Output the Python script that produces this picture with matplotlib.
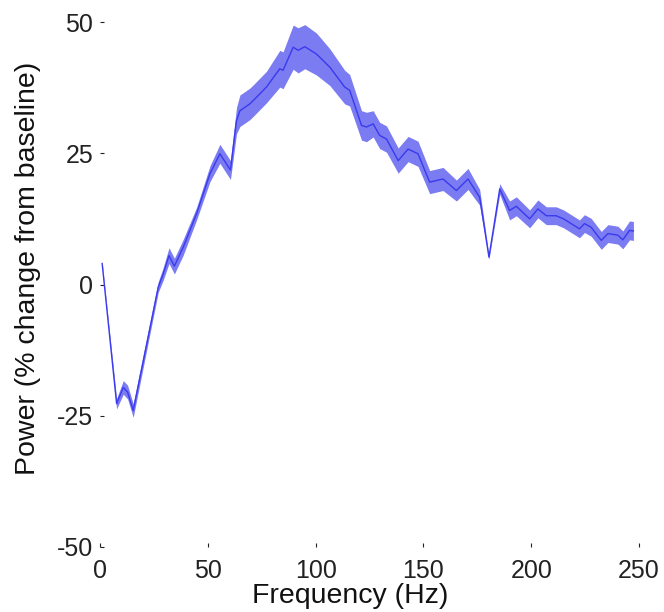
import matplotlib
matplotlib.use('Agg')
import matplotlib.pyplot as plt
import numpy as np

# values
freq = [1, 7.7, 10.8, 12.8, 15.4, 27, 29.3, 32, 34.5, 38.6, 44.8, 51, 55.6, 60.5,
        63.3, 64.9, 69.5, 71, 77.2, 83.4, 84.9, 89.6, 91.9, 95, 100.4, 106.6,
        113.5, 115.8, 121.3, 123.6, 126.7, 129.7, 132.9, 138.3, 142.9, 147.5,
        152.9, 159.1, 165.3, 170.7, 176.1, 180.4, 185.4, 190, 193.1, 199.3,
        203.1, 207, 211.6, 215, 219.3, 222.4, 224.7, 227.8, 232.5, 235.6,
        240.2, 242.5, 245.6, 247.4]
power = [4.0, -22.7, -19.6, -20.5, -24.0, -0.5, 2.0, 5.5, 3.5, 7.1, 13.5, 21.1, 24.9, 21.8,
         31.2, 33.1, 34.4, 35.0, 37.6, 41.1, 40.8, 45.2, 44.6, 45.3, 43.9, 41.4,
         37.6, 37.0, 30.3, 30.0, 30.6, 28.4, 27.7, 23.6, 25.8, 24.9,
         19.5, 20.1, 17.9, 20.1, 16.6, 5.2, 18.2, 14.1, 14.9, 12.5,
         14.4, 13.1, 13.1, 12.5, 11.4, 10.6, 11.6, 10.9, 8.4, 9.7,
         9.4, 8.5, 10.3, 10.2]
sem = [0.3, 1.0, 1.3, 1.3, 1.3, 1.0, 1.2, 1.5, 1.5, 1.5, 1.2, 1.5, 1.8, 1.8,
       2.5, 3.0, 3.0, 3.0, 3.0, 3.5, 3.5, 4.2, 4.3, 4.2, 4.0, 3.5,
       3.2, 3.0, 2.8, 2.8, 2.5, 2.5, 2.5, 2.4, 2.4, 2.4,
       2.2, 2.2, 2.0, 2.0, 1.5, 0.4, 1.0, 1.8, 1.8, 1.7,
       1.7, 1.7, 1.7, 1.7, 1.7, 1.7, 1.7, 1.7, 1.7, 1.7,
       1.7, 1.7, 1.8, 1.8]

xticks = [0, 50, 100, 150, 200, 250]
yticks = [-50, -25, 0, 25, 50]

freq = np.array(freq)
power = np.array(power)
sem = np.array(sem)

plt.rcParams['font.family'] = ['Liberation Sans', 'DejaVu Sans']
plt.rcParams['axes.unicode_minus'] = False

fig = plt.figure(figsize=(6.64, 6.12), dpi=100)
ax = fig.add_axes([100/664, 1 - 547/612, 539/664, 525/612])

ax.fill_between(freq, power - sem, power + sem, color='#7b7bf2', linewidth=0)
ax.plot(freq, power, color='#3a3aee', linewidth=1)

ax.set_xlim(0, 250)
ax.set_ylim(-50, 50)
ax.set_xticks(xticks)
ax.set_yticks(yticks)
for s in ax.spines.values():
    s.set_visible(False)
ax.tick_params(direction='in', length=3, width=0.8, labelsize=18, pad=9, colors='#222222')
ax.tick_params(axis='y', pad=5)

ax.set_xlabel('Frequency (Hz)', fontsize=20.5, color='#111111')
ax.set_ylabel('Power (% change from baseline)', fontsize=20.5, color='#111111')
ax.xaxis.set_label_coords(0.464, -0.068)
ax.yaxis.set_label_coords(-0.11, 0.53)

plt.savefig('out.png', dpi=100)
